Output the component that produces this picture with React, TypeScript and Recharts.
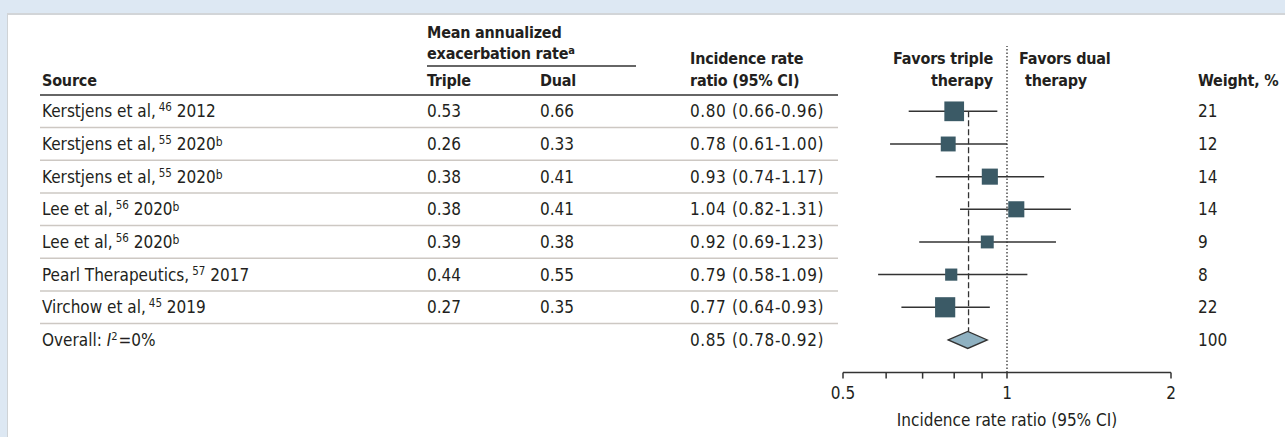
import React from "react";
import {
  ComposedChart,
  Scatter,
  XAxis,
  YAxis,
  ReferenceLine,
  ReferenceArea,
  ErrorBar,
} from "recharts";

// study rows
const sourceNames = [
  "Kerstjens et al,",
  "Kerstjens et al,",
  "Kerstjens et al,",
  "Lee et al,",
  "Lee et al,",
  "Pearl Therapeutics,",
  "Virchow et al,",
];
const sourceRefs = ["46", "55", "55", "56", "56", "57", "45"];
const sourceYears = ["2012", "2020", "2020", "2020", "2020", "2017", "2019"];
const sourceNotes = ["", "b", "b", "b", "b", "", ""];

const tripleRates = ["0.53", "0.26", "0.38", "0.38", "0.39", "0.44", "0.27"];
const dualRates = ["0.66", "0.33", "0.41", "0.41", "0.38", "0.55", "0.35"];

const irr = [0.8, 0.78, 0.93, 1.04, 0.92, 0.79, 0.77];
const irrLow = [0.66, 0.61, 0.74, 0.82, 0.69, 0.58, 0.64];
const irrHigh = [0.96, 1.0, 1.17, 1.31, 1.23, 1.09, 0.93];
const weights = [21, 12, 14, 14, 9, 8, 22];

// pooled estimate
const overallIrr = 0.85;
const overallLow = 0.78;
const overallHigh = 0.92;
const overallWeight = 100;

const xTicks = [0.5, 0.6, 0.7, 0.8, 0.9, 1, 2];
const xTickLabels = [0.5, 1, 2];

const FONT = "'DejaVu Sans Condensed', 'Liberation Sans Narrow', 'Open Sans', sans-serif";
const INK = "#231f20";
const BOX = "#3b5a66";

const nRows = sourceNames.length;
const studyData = irr.map((v, i) => ({
  x: v,
  y: nRows - i + 1,
  ci: [v - irrLow[i], irrHigh[i] - v],
  w: weights[i],
}));
const yTicks = [...studyData.map((d) => d.y), 1];

const fmt = (v: number) => v.toFixed(2);

const Box = (props: any) => {
  const { cx, cy, payload } = props;
  const s = 4.3 * Math.sqrt(payload.w);
  return <rect x={cx - s / 2} y={cy - s / 2} width={s} height={s} fill={BOX} />;
};

const Diamond = (props: any) => {
  const { x, y, width, height } = props;
  const mx = x + width / 2;
  const my = y + height / 2;
  return (
    <polygon
      points={`${x},${my} ${mx},${y} ${x + width},${my} ${mx},${y + height}`}
      fill="#8fb1c1"
      stroke="#333"
      strokeWidth={1.3}
    />
  );
};

const RowTick = (props: any) => {
  const { y, payload } = props;
  const v = payload.value;
  const ty = y + 6;
  const txt = { fontFamily: FONT, fontSize: 17, fill: INK };
  if (v === 1) {
    return (
      <g>
        <text x={42} y={ty} {...txt}>
          Overall:{" "}
          <tspan fontStyle="italic">I</tspan>
          <tspan dy={-6} fontSize={11}>2</tspan>
          <tspan dy={6} dx={1}>=0%</tspan>
        </text>
        <text x={690} y={ty} letterSpacing={0.6} {...txt}>
          {`${fmt(overallIrr)} (${fmt(overallLow)}-${fmt(overallHigh)})`}
        </text>
        <text x={1198} y={ty} {...txt}>{overallWeight}</text>
      </g>
    );
  }
  const i = nRows + 1 - v;
  return (
    <g>
      <text x={42} y={ty} {...txt}>
        {sourceNames[i]}
        <tspan dx={3} dy={-6} fontSize={11.5}>{sourceRefs[i]}</tspan>
        <tspan dy={6}> {sourceYears[i]}</tspan>
        {sourceNotes[i] ? (
          <>
            <tspan dy={-4} fontSize={12}>{sourceNotes[i]}</tspan>
            <tspan dy={4}> </tspan>
          </>
        ) : null}
      </text>
      <text x={427} y={ty} {...txt}>{tripleRates[i]}</text>
      <text x={540} y={ty} {...txt}>{dualRates[i]}</text>
      <text x={690} y={ty} letterSpacing={0.6} {...txt}>
        {`${fmt(irr[i])} (${fmt(irrLow[i])}-${fmt(irrHigh[i])})`}
      </text>
      <text x={1198} y={ty} {...txt}>{weights[i]}</text>
      <line x1={40} x2={838} y1={y + 16.3} y2={y + 16.3} stroke="#cdc8c3" strokeWidth={1.5} />
    </g>
  );
};

const Header = () => {
  const h = {
    fontFamily: FONT,
    fontSize: 16,
    fontWeight: 700,
    fill: INK,
    letterSpacing: -0.2,
  };
  return (
    <svg
      width={1285}
      height={437}
      style={{ position: "absolute", left: 0, top: 0, pointerEvents: "none" }}
    >
      <text x={42} y={86} {...h}>Source</text>
      <text x={427} y={38} {...h}>Mean annualized</text>
      <text x={427} y={59} {...h}>
        exacerbation rate<tspan dy={-5} fontSize={11}>a</tspan>
      </text>
      <line x1={427} x2={636} y1={66} y2={66} stroke="#333" strokeWidth={1.5} />
      <text x={427} y={86} {...h}>Triple</text>
      <text x={540} y={86} {...h}>Dual</text>
      <text x={690} y={64} {...h}>Incidence rate</text>
      <text x={690} y={86} {...h}>ratio (95% CI)</text>
      <text x={993} y={64} textAnchor="end" {...h}>Favors triple</text>
      <text x={993} y={86} textAnchor="end" {...h}>therapy</text>
      <text x={1019} y={64} {...h}>Favors dual</text>
      <text x={1025} y={86} {...h}>therapy</text>
      <text x={1198} y={86} {...h}>Weight, %</text>
      <line x1={40} x2={838} y1={95} y2={95} stroke="#333" strokeWidth={1.5} />
    </svg>
  );
};

export default function App() {
  return (
    <div
      style={{
        position: "absolute",
        left: 0,
        top: 0,
        width: 1285,
        height: 437,
        background: "#dde8f3",
        overflow: "hidden",
      }}
    >
      <div
        style={{
          position: "absolute",
          left: 7,
          top: 13,
          right: 0,
          bottom: 0,
          background: "#fff",
          borderTop: "2px solid #d2d5d8",
          borderLeft: "1px solid #cfd3d6",
        }}
      />
      <div style={{ position: "absolute", left: 0, top: 0 }}>
        <ComposedChart
          width={1285}
          height={437}
          margin={{ top: 46, right: 114, bottom: 6.4, left: 43 }}
        >
          <XAxis
            type="number"
            dataKey="x"
            scale="log"
            domain={[0.5, 2]}
            ticks={xTicks}
            interval={0}
            tickFormatter={(v: number) => (xTickLabels.includes(v) ? String(v) : "")}
            tick={{ fontFamily: FONT, fontSize: 17, fill: INK }}
            tickSize={6}
            tickMargin={8}
            axisLine={{ stroke: "#333", strokeWidth: 1.5 }}
            tickLine={{ stroke: "#333", strokeWidth: 1.5 }}
            height={58}
            label={{
              value: "Incidence rate ratio (95% CI)",
              position: "insideBottom",
              offset: 5,
              style: { fontFamily: FONT, fontSize: 17, fill: INK },
            }}
          />
          <YAxis
            type="number"
            dataKey="y"
            domain={[0, 10]}
            ticks={yTicks}
            interval={0}
            width={800}
            axisLine={false}
            tickLine={false}
            tick={<RowTick />}
          />
          <ReferenceLine
            x={1}
            stroke="#333"
            strokeWidth={1.3}
            strokeDasharray="1.5 2"
          />
          <ReferenceLine
            segment={[
              { x: overallIrr, y: nRows + 1 },
              { x: overallIrr, y: 1.26 },
            ]}
            stroke="#333"
            strokeWidth={1.3}
            strokeDasharray="6 3"
          />
          <Scatter data={studyData} dataKey="y" shape={<Box />} isAnimationActive={false}>
            <ErrorBar
              dataKey="ci"
              direction="x"
              width={0}
              stroke="#333"
              strokeWidth={1.5}
              isAnimationActive={false}
            />
          </Scatter>
          <ReferenceArea
            x1={overallLow}
            x2={overallHigh}
            y1={0.74}
            y2={1.26}
            shape={<Diamond />}
          />
        </ComposedChart>
      </div>
      <Header />
    </div>
  );
}
